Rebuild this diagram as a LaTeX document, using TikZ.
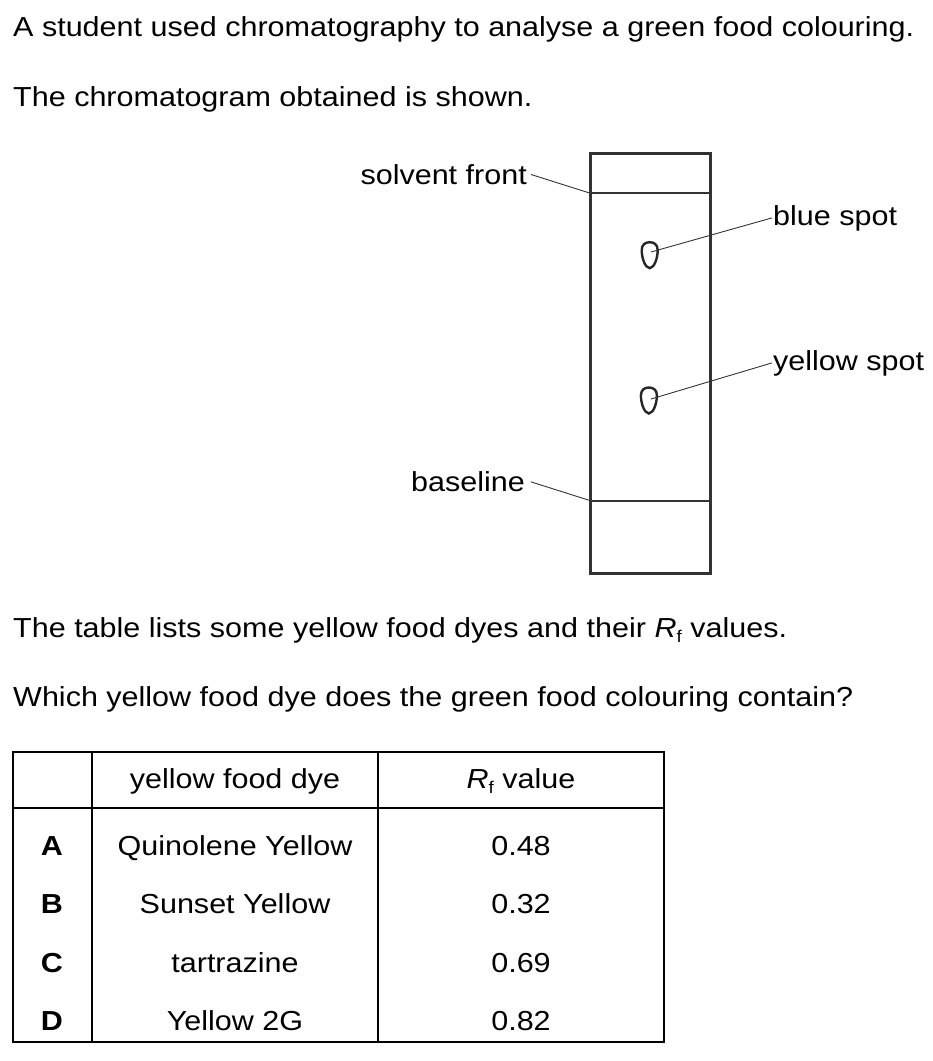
\documentclass[tikz,border=0pt]{standalone}
\usepackage{fontspec}
\setmainfont{Liberation Sans}[FakeStretch=1.11]
\newcommand\rfsub{\raisebox{-0.35ex}{\fontsize{17}{20}\selectfont f}}
\begin{document}
\begin{tikzpicture}[x=1pt,y=-1pt,
  txt/.style={inner sep=0pt, font=\fontsize{27.5}{32}\selectfont},
  keytxt/.style={txt, font=\fontsize{27.5}{32}\selectfont\bfseries},
  lead/.style={line width=0.9pt, black!80},
  frame/.style={line width=3pt, black!80},
  innerline/.style={line width=2pt, black!80},
  tline/.style={line width=2pt, black},
  spot/.pic={\draw[line width=2.4pt, black!85]
      (0,13) .. controls (-5,12.5) and (-8,2) .. (-8,-5)
      .. controls (-8,-10.5) and (-4.5,-13) .. (0,-13)
      .. controls (4.5,-13) and (8,-10.5) .. (8,-5)
      .. controls (8,2) and (5,12.5) .. (0,13) -- cycle;}]
\useasboundingbox (0,0) rectangle (933,1061);

% question text
\node[txt, anchor=base west] (l1) at (13,36) {A student used chromatography to analyse a green food colouring.};
\node[txt, anchor=base west] (l2) at (13,106) {The chromatogram obtained is shown.};
\node[txt, anchor=base west] (l3) at (13,637) {The table lists some yellow food dyes and their \textit{R}\rfsub{} values.};
\node[txt, anchor=base west] (l4) at (13,706.5) {Which yellow food dye does the green food colouring contain?};

% chromatogram
\draw[frame] (590.5,153.5) rectangle (710.5,573);
\coordinate (sfl) at (590.5,193.3);
\coordinate (sfr) at (710.5,193.3);
\coordinate (bll) at (590.5,500.7);
\coordinate (blr) at (710.5,500.7);
\draw[innerline] (sfl) -- (sfr);
\draw[innerline] (bll) -- (blr);

\pic at (649.7,255.2) {spot};
\pic at (648.9,400.5) {spot};
\coordinate (bs) at (651,252);
\coordinate (ys) at (651,399);

\node[txt, anchor=base east] (solv) at (527,184.3) {solvent front};
\node[txt, anchor=base east] (base) at (525,491.7) {baseline};
\node[txt, anchor=base west] (blue) at (773,225) {blue spot};
\node[txt, anchor=base west] (yel) at (773,370) {yellow spot};

\draw[lead] ([xshift=4pt]solv.east) -- (sfl);
\draw[lead] ([xshift=6pt]base.east) -- (bll);
\draw[lead] (bs) -- ([xshift=-1pt]blue.west);
\draw[lead] (ys) -- ([xshift=-1pt]yel.west);

% table
\draw[tline] (13,751.7) rectangle (664,1041.7);
\draw[tline] (91.7,751.7) -- (91.7,1041.7);
\draw[tline] (378.3,751.7) -- (378.3,1041.7);
\draw[tline] (13,808.3) -- (664,808.3);

\node[txt, anchor=base] (h1) at (235,788.3) {yellow food dye};
\node[txt, anchor=base] (h2) at (521,788.3) {\textit{R}\rfsub{} value};

\node[keytxt, anchor=base] (ka) at (52,855) {A};
\node[keytxt, anchor=base] (kb) at (52,913.5) {B};
\node[keytxt, anchor=base] (kc) at (52,972) {C};
\node[keytxt, anchor=base] (kd) at (52,1030.5) {D};

\node[txt, anchor=base] (na) at (235,855) {Quinolene Yellow};
\node[txt, anchor=base] (nb) at (235,913.5) {Sunset Yellow};
\node[txt, anchor=base] (nc) at (235,972) {tartrazine};
\node[txt, anchor=base] (nd) at (235,1030.5) {Yellow 2G};

\node[txt, anchor=base] (va) at (521,855) {0.48};
\node[txt, anchor=base] (vb) at (521,913.5) {0.32};
\node[txt, anchor=base] (vc) at (521,972) {0.69};
\node[txt, anchor=base] (vd) at (521,1030.5) {0.82};
\end{tikzpicture}
\end{document}
